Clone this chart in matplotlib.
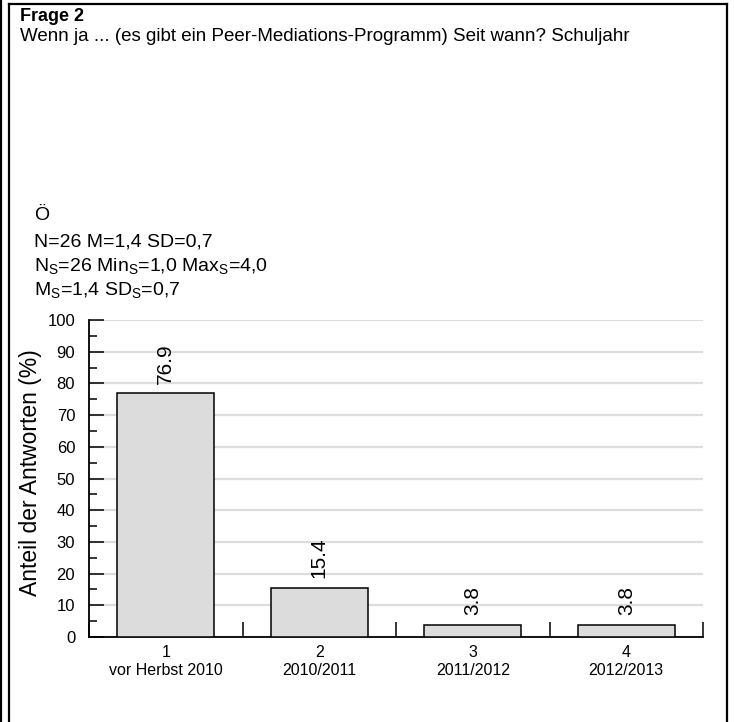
import matplotlib
matplotlib.use("Agg")
import matplotlib.pyplot as plt
from matplotlib.lines import Line2D

plt.rcParams['font.family'] = ['Liberation Sans', 'DejaVu Sans']
plt.rcParams['mathtext.fontset'] = 'custom'
plt.rcParams['mathtext.rm'] = 'Liberation Sans'

# data
codes = ['1', '2', '3', '4']
answers = ['vor Herbst 2010', '2010/2011', '2011/2012', '2012/2013']
percent = [76.9, 15.4, 3.8, 3.8]
y_ticks = [0, 10, 20, 30, 40, 50, 60, 70, 80, 90, 100]

fig = plt.figure(figsize=(7.34, 7.22), dpi=100)

# frame lines round the page
for xs, ys in [([0.002, 0.002], [0, 1]), ([0.0125, 0.0125], [0, 0.994]),
               ([0.0125, 0.9905], [0.994, 0.994]), ([0.9905, 0.9905], [0, 0.994])]:
    fig.add_artist(Line2D(xs, ys, transform=fig.transFigure, color='black', lw=1.6))

fig.text(0.027, 0.9705, "Frage 2", fontsize=13, fontweight='bold', va='baseline')
fig.text(0.027, 0.9432, "Wenn ja ... (es gibt ein Peer-Mediations-Programm) Seit wann? Schuljahr",
         fontsize=13.5, va='baseline')

fig.text(0.047, 0.6953, "Ö", fontsize=14, va='baseline')
fig.text(0.047, 0.6590, "N=26 M=1,4 SD=0,7", fontsize=14, va='baseline')
fig.text(0.047, 0.6240, r"N$_\mathregular{S}$=26 Min$_\mathregular{S}$=1,0 Max$_\mathregular{S}$=4,0",
         fontsize=14, va='baseline')
fig.text(0.047, 0.5905, r"M$_\mathregular{S}$=1,4 SD$_\mathregular{S}$=0,7", fontsize=14, va='baseline')

ax = fig.add_axes([0.1213, 0.1177, 0.8365, 0.4391])
x = list(range(1, len(percent) + 1))
ax.bar(x, percent, width=0.63, color='#dcdcdc', edgecolor='black', linewidth=1.1, zorder=3)

for xi, v in zip(x, percent):
    ax.annotate(f"{v:.1f}", (xi, v), xytext=(0, 7), textcoords='offset points',
                rotation=90, ha='center', va='bottom', fontsize=15)

ax.set_xlim(0.5, 4.5)
ax.set_ylim(0, 100)
ax.set_yticks(y_ticks)
ax.set_yticks(range(5, 100, 10), minor=True)
ax.set_xticks(x)
ax.set_xticklabels([f"{c}\n{a}" for c, a in zip(codes, answers)], fontsize=11.5, linespacing=1.2)
ax.set_xticks([0.5, 1.5, 2.5, 3.5, 4.5], minor=True)
ax.tick_params(axis='x', which='major', length=0, pad=6)
ax.tick_params(axis='x', which='minor', direction='in', length=11, width=1.1)
ax.tick_params(axis='y', which='major', direction='in', length=10.5, width=1.1, labelsize=12, pad=10)
ax.tick_params(axis='y', which='minor', direction='in', length=5.5, width=1.1)

ax.grid(axis='y', color='#dddddd', linewidth=1.6, zorder=0)
ax.set_axisbelow(True)
for s in ['top', 'right']:
    ax.spines[s].set_visible(False)
for s in ['left', 'bottom']:
    ax.spines[s].set_linewidth(1.3)

ax.set_ylabel("Anteil der Antworten (%)", fontsize=16.5, va='center')
ax.yaxis.set_label_coords(-0.096, 0.52)

plt.savefig('out.png', dpi=100)
